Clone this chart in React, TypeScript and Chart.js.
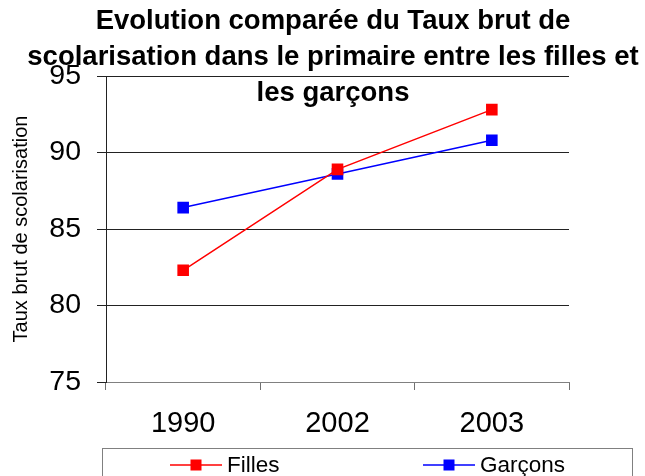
import React, { useEffect, useRef } from 'react';
import { Chart, registerables } from 'chart.js';

Chart.register(...registerables);

const categories = ['1990', '2002', '2003'];
const fillesValues = [82.3, 88.9, 92.8];
const garconsValues = [86.4, 88.6, 90.8];
const seriesNames = ['Filles', 'Garçons'];
const seriesColors = ['#FF0000', '#0000FF'];
const titleLines = [
  'Evolution comparée du Taux brut de',
  'scolarisation dans le primaire entre les filles et',
  'les garçons',
];
const yAxisTitle = 'Taux brut de scolarisation';
const yMin = 75;
const yMax = 95;
const yStep = 5;

const FONT = '"Liberation Sans", Arial, Helvetica, sans-serif';

const titlePlugin = {
  id: 'overlayTitle',
  afterDraw(chart: any) {
    const ctx = chart.ctx;
    ctx.save();
    ctx.font = `bold 27.5px ${FONT}`;
    ctx.fillStyle = '#000';
    ctx.textAlign = 'center';
    ctx.textBaseline = 'alphabetic';
    titleLines.forEach((line, i) => ctx.fillText(line, 333, 29 + i * 36));
    ctx.restore();
  },
};

const legendPlugin = {
  id: 'boxedLegend',
  afterDraw(chart: any) {
    const ctx = chart.ctx;
    ctx.save();
    ctx.strokeStyle = '#808080';
    ctx.lineWidth = 1;
    ctx.strokeRect(102.5, 448.5, 530, 40);
    const starts = [170, 423];
    const cy = 465;
    chart.data.datasets.forEach((ds: any, i: number) => {
      const x0 = starts[i];
      ctx.strokeStyle = ds.borderColor;
      ctx.lineWidth = 1.5;
      ctx.beginPath();
      ctx.moveTo(x0, cy);
      ctx.lineTo(x0 + 52, cy);
      ctx.stroke();
      ctx.fillStyle = ds.pointBackgroundColor;
      ctx.fillRect(x0 + 26 - 5.5, cy - 5.5, 11, 11);
      ctx.fillStyle = '#000';
      ctx.font = `22.5px ${FONT}`;
      ctx.textAlign = 'left';
      ctx.textBaseline = 'alphabetic';
      ctx.fillText(ds.label, x0 + 57, 472);
    });
    ctx.restore();
  },
};

export default function App() {
  const canvasRef = useRef<HTMLCanvasElement | null>(null);

  useEffect(() => {
    if (!canvasRef.current) return;
    const chart = new Chart(canvasRef.current, {
      type: 'line',
      data: {
        labels: categories,
        datasets: [
          {
            label: seriesNames[0],
            data: fillesValues,
            borderColor: seriesColors[0],
            backgroundColor: seriesColors[0],
            pointBackgroundColor: seriesColors[0],
            pointBorderColor: seriesColors[0],
            borderWidth: 1.5,
            pointStyle: 'rect',
            pointRadius: 8.2,
            pointBorderWidth: 0,
            tension: 0,
          },
          {
            label: seriesNames[1],
            data: garconsValues,
            borderColor: seriesColors[1],
            backgroundColor: seriesColors[1],
            pointBackgroundColor: seriesColors[1],
            pointBorderColor: seriesColors[1],
            borderWidth: 1.5,
            pointStyle: 'rect',
            pointRadius: 8.2,
            pointBorderWidth: 0,
            tension: 0,
          },
        ],
      },
      options: {
        animation: false,
        responsive: true,
        maintainAspectRatio: false,
        layout: { padding: { top: 76, right: 76, bottom: 34, left: 0 } },
        plugins: {
          legend: { display: false },
          title: { display: false },
          tooltip: { enabled: false },
        },
        scales: {
          x: {
            type: 'category',
            offset: true,
            afterFit: (scale: any) => {
              scale.height = 60;
            },
            grid: {
              offset: true,
              drawOnChartArea: false,
              color: '#707070',
              tickLength: 8,
            },
            border: { color: '#808080', width: 1 },
            ticks: {
              color: '#000',
              font: { family: FONT, size: 29 },
              padding: 17,
              maxRotation: 0,
            },
          },
          y: {
            min: yMin,
            max: yMax,
            afterFit: (scale: any) => {
              scale.width = 106;
            },
            ticks: {
              stepSize: yStep,
              color: '#000',
              font: { family: FONT, size: 28.5 },
              padding: 16,
            },
            grid: {
              color: '#222',
              tickLength: 9,
            },
            border: { color: '#222', width: 1 },
            title: {
              display: true,
              text: yAxisTitle,
              color: '#000',
              font: { family: FONT, size: 20 },
              padding: { top: 9.5, bottom: 0 },
            },
          },
        },
      },
      plugins: [titlePlugin, legendPlugin],
    });
    return () => chart.destroy();
  }, []);

  return (
    <div style={{ position: 'fixed', left: 0, top: 0, width: 645, height: 476, background: '#fff' }}>
      <canvas ref={canvasRef} />
    </div>
  );
}
